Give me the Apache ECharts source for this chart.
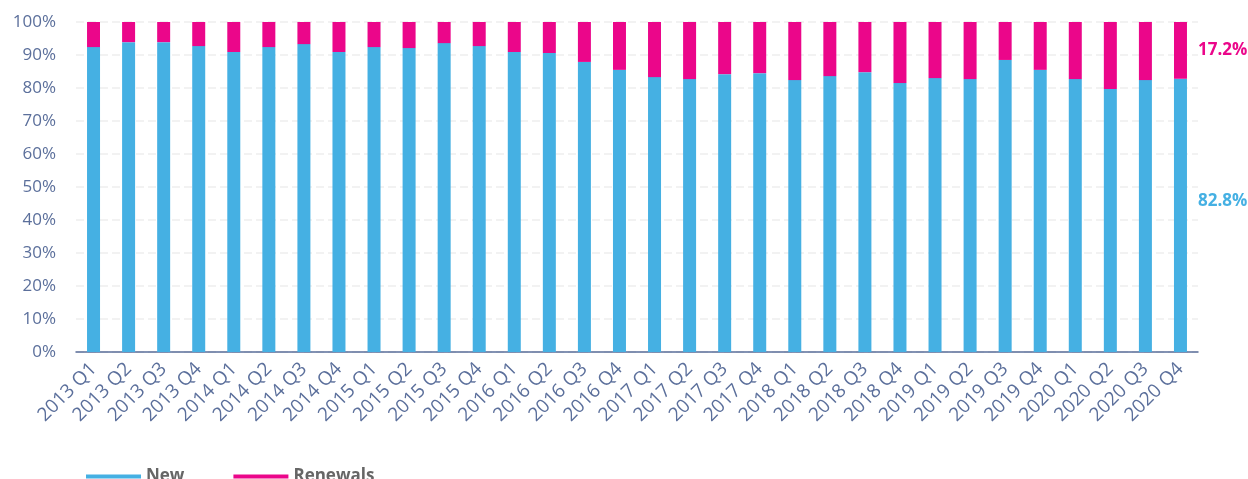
<!DOCTYPE html>
<html>
<head>
<meta charset="utf-8">
<script src="https://cdn.jsdelivr.net/npm/echarts@6/dist/echarts.min.js"></script>
<style>html,body{margin:0;padding:0;background:#fff}#c{width:1248px;height:479px}</style>
</head>
<body>
<div id="c"></div>
<script>
const categories = ['2013 Q1','2013 Q2','2013 Q3','2013 Q4','2014 Q1','2014 Q2','2014 Q3','2014 Q4','2015 Q1','2015 Q2','2015 Q3','2015 Q4','2016 Q1','2016 Q2','2016 Q3','2016 Q4','2017 Q1','2017 Q2','2017 Q3','2017 Q4','2018 Q1','2018 Q2','2018 Q3','2018 Q4','2019 Q1','2019 Q2','2019 Q3','2019 Q4','2020 Q1','2020 Q2','2020 Q3','2020 Q4'];
const newShare = [92.4,93.9,93.9,92.7,90.9,92.4,93.3,90.9,92.4,92.1,93.6,92.7,90.9,90.6,87.9,85.5,83.3,82.7,84.2,84.5,82.4,83.6,84.8,81.5,83.0,82.7,88.5,85.5,82.7,79.7,82.4,82.8];
const renewalsShare = [7.6,6.1,6.1,7.3,9.1,7.6,6.7,9.1,7.6,7.9,6.4,7.3,9.1,9.4,12.1,14.5,16.7,17.3,15.8,15.5,17.6,16.4,15.2,18.5,17.0,17.3,11.5,14.5,17.3,20.3,17.6,17.2];

const BLUE = '#45b0e3', PINK = '#eb068a', AX = '#5b6f9b';
const font = '"Open Sans", "Noto Sans", sans-serif';
const last = categories.length - 1;
function lastLabel(color, offset) {
  return {
    show: true, position: 'right', distance: 11, offset: offset,
    formatter: p => p.dataIndex === last ? p.value.toFixed(1) + '%' : '',
    color: color, fontWeight: 'bold', fontSize: 17, fontFamily: font
  };
}
const chart = echarts.init(document.getElementById('c'));
chart.setOption({
  animation: false,
  grid: { left: 76, right: 50, top: 22, bottom: 127 },
  legend: {
    left: 81, top: 463, itemWidth: 55, itemHeight: 4, itemGap: 49,
    icon: 'rect',
    textStyle: { color: '#666', fontWeight: 'bold', fontSize: 17, fontFamily: font },
    data: ['New', 'Renewals']
  },
  xAxis: {
    type: 'category', data: categories,
    axisLine: { lineStyle: { color: AX, width: 1.5 } },
    axisTick: { show: false },
    axisLabel: { rotate: 45, color: AX, fontSize: 19, fontFamily: font, interval: 0, margin: 14 }
  },
  yAxis: {
    type: 'value', min: 0, max: 100, interval: 10,
    axisLabel: { formatter: '{value}%', color: AX, fontSize: 17, fontFamily: font, margin: 20 },
    axisLine: { show: false }, axisTick: { show: false },
    splitLine: { lineStyle: { color: '#eeeeee', type: [8, 4], width: 1.5 } }
  },
  series: [
    { name: 'New', type: 'bar', stack: 's', barWidth: 13, data: newShare,
      itemStyle: { color: BLUE }, label: lastLabel(BLUE, [0, -14]) },
    { name: 'Renewals', type: 'bar', stack: 's', barWidth: 13, data: renewalsShare,
      itemStyle: { color: PINK }, label: lastLabel(PINK, [0, 0]) }
  ]
});
</script>
</body>
</html>
